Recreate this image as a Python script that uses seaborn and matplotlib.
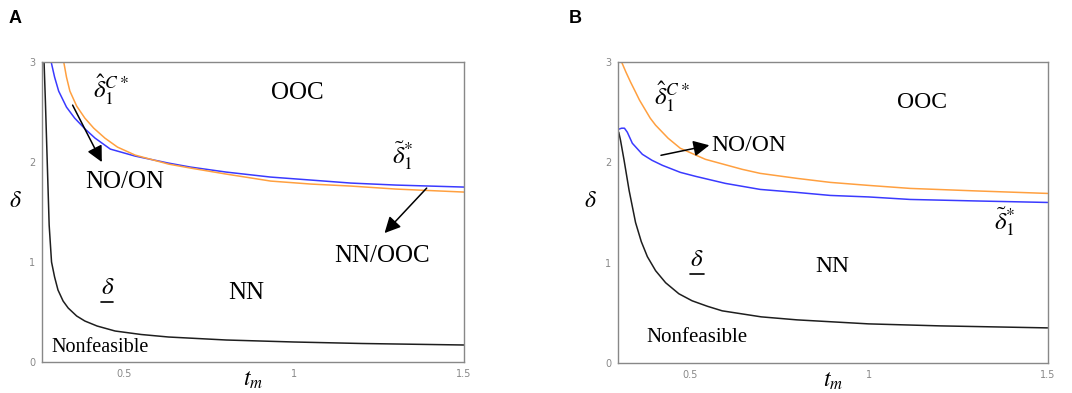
import matplotlib
matplotlib.use('Agg')
import matplotlib.pyplot as plt
import pandas as pd
import seaborn as sns

# panel A curves
a_black_t = [0.264, 0.268, 0.273, 0.279, 0.286, 0.295, 0.305, 0.32, 0.335, 0.36, 0.384, 0.42, 0.473, 0.55, 0.63, 0.8, 1.0, 1.2, 1.5]
a_black_d = [3.00, 2.60, 2.04, 1.37, 1.00, 0.85, 0.72, 0.61, 0.54, 0.46, 0.41, 0.36, 0.31, 0.275, 0.25, 0.22, 0.20, 0.185, 0.17]
a_blue_t = [0.285, 0.295, 0.307, 0.33, 0.354, 0.385, 0.414, 0.459, 0.532, 0.63, 0.695, 0.8, 0.931, 1.05, 1.167, 1.3, 1.5]
a_blue_d = [3.00, 2.85, 2.71, 2.55, 2.44, 2.33, 2.24, 2.13, 2.06, 1.99, 1.95, 1.90, 1.85, 1.82, 1.79, 1.77, 1.75]
a_orange_t = [0.322, 0.33, 0.34, 0.36, 0.384, 0.41, 0.443, 0.48, 0.532, 0.63, 0.695, 0.8, 0.931, 1.05, 1.167, 1.3, 1.5]
a_orange_d = [3.00, 2.85, 2.71, 2.56, 2.44, 2.34, 2.24, 2.15, 2.07, 1.98, 1.94, 1.88, 1.81, 1.78, 1.76, 1.73, 1.70]

# panel B curves
b_black_t = [0.302, 0.307, 0.317, 0.331, 0.349, 0.365, 0.382, 0.405, 0.433, 0.47, 0.507, 0.55, 0.591, 0.7, 0.8, 1.0, 1.2, 1.5]
b_black_d = [2.30, 2.22, 2.02, 1.72, 1.40, 1.21, 1.06, 0.92, 0.80, 0.69, 0.62, 0.565, 0.52, 0.46, 0.43, 0.39, 0.37, 0.35]
b_blue_t = [0.302, 0.31, 0.318, 0.326, 0.34, 0.368, 0.395, 0.424, 0.474, 0.517, 0.6, 0.697, 0.8, 0.893, 1.0, 1.116, 1.3, 1.5]
b_blue_d = [2.33, 2.34, 2.34, 2.30, 2.19, 2.08, 2.02, 1.97, 1.90, 1.86, 1.79, 1.73, 1.70, 1.67, 1.655, 1.63, 1.615, 1.60]
b_orange_t = [0.31, 0.322, 0.335, 0.349, 0.36, 0.375, 0.39, 0.405, 0.44, 0.474, 0.544, 0.647, 0.697, 0.8, 0.893, 1.0, 1.116, 1.3, 1.5]
b_orange_d = [3.00, 2.90, 2.80, 2.70, 2.62, 2.53, 2.44, 2.37, 2.24, 2.14, 2.03, 1.93, 1.89, 1.84, 1.80, 1.77, 1.74, 1.715, 1.69]

ticks_x = [0.5, 1, 1.5]
tick_labels_x = ['0.5', '1', '1.5']
ticks_y = [0, 1, 2, 3]

colors = {'black': '#1e1e1e', 'blue': '#3a3aff', 'orange': '#ffa040'}


def make_df(curves):
    frames = []
    for name, t, d in curves:
        frames.append(pd.DataFrame({'t': t, 'd': d, 'curve': name}))
    return pd.concat(frames, ignore_index=True)


sns.set_style('white')
plt.rcParams['font.family'] = ['Liberation Serif', 'DejaVu Serif']
plt.rcParams['mathtext.fontset'] = 'stix'
plt.rcParams['text.color'] = 'black'
plt.rcParams['axes.labelcolor'] = 'black'

fig = plt.figure(figsize=(10.72, 3.93), dpi=100)
axA = fig.add_axes([0.0392, 0.0789, 0.3937, 0.763])
axB = fig.add_axes([0.5765, 0.0763, 0.4008, 0.766])

dfA = make_df([('black', a_black_t, a_black_d), ('blue', a_blue_t, a_blue_d), ('orange', a_orange_t, a_orange_d)])
dfB = make_df([('black', b_black_t, b_black_d), ('blue', b_blue_t, b_blue_d), ('orange', b_orange_t, b_orange_d)])

for ax, df, xmin in [(axA, dfA, 0.258), (axB, dfB, 0.30)]:
    sns.lineplot(data=df, x='t', y='d', hue='curve', units='curve', estimator=None,
                 sort=False, palette=colors, linewidth=1.1, legend=False, ax=ax)
    ax.set_xlim(xmin, 1.5)
    ax.set_ylim(0, 3)
    ax.set_xticks(ticks_x)
    ax.set_xticklabels(tick_labels_x)
    ax.set_yticks(ticks_y)
    ax.tick_params(direction='in', length=3, width=0.8, color='#888888', labelsize=7,
                   labelcolor='#888888', pad=5)
    for lbl in ax.get_xticklabels() + ax.get_yticklabels():
        lbl.set_family('DejaVu Sans')
    for s in ax.spines.values():
        s.set_color('#888888')
        s.set_linewidth(1.0)
    ax.set_xlabel(r'$t_m$', fontsize=17, labelpad=-7)
    ax.set_ylabel(r'$\delta$', fontsize=17, rotation=0, labelpad=10)

arrow = dict(arrowstyle='-|>', mutation_scale=24, lw=1.1, color='black', shrinkA=0, shrinkB=0)

# panel A text
axA.text(0.46, 2.72, r'$\hat{\delta}_1^{C*}$', fontsize=18, ha='center', va='center')
axA.text(1.01, 2.69, 'OOC', fontsize=18, ha='center', va='center')
axA.text(1.32, 2.06, r'$\tilde{\delta}_1^{*}$', fontsize=18, ha='center', va='center')
axA.text(0.50, 1.80, 'NO/ON', fontsize=18, ha='center', va='center')
axA.text(1.26, 1.06, 'NN/OOC', fontsize=18, ha='center', va='center')
axA.text(0.45, 0.74, r'$\delta$', fontsize=18, ha='center', va='center')
axA.plot([0.432, 0.468], [0.60, 0.60], color='black', lw=1.2)
axA.text(0.86, 0.69, 'NN', fontsize=18, ha='center', va='center')
axA.text(0.43, 0.14, 'Nonfeasible', fontsize=14.5, ha='center', va='center')
axA.annotate('', xy=(0.434, 2.0), xytext=(0.348, 2.57), arrowprops=arrow)
axA.annotate('', xy=(1.266, 1.29), xytext=(1.39, 1.74), arrowprops=arrow)

# panel B text
axB.text(0.45, 2.65, r'$\hat{\delta}_1^{C*}$', fontsize=18, ha='center', va='center')
axB.text(1.15, 2.60, 'OOC', fontsize=17, ha='center', va='center')
axB.text(0.56, 2.17, 'NO/ON', fontsize=17, ha='left', va='center')
axB.text(1.38, 1.41, r'$\tilde{\delta}_1^{*}$', fontsize=18, ha='center', va='center')
axB.text(0.52, 1.03, r'$\delta$', fontsize=18, ha='center', va='center')
axB.plot([0.50, 0.54], [0.89, 0.89], color='black', lw=1.2)
axB.text(0.90, 0.96, 'NN', fontsize=17, ha='center', va='center')
axB.text(0.52, 0.25, 'Nonfeasible', fontsize=15, ha='center', va='center')
axB.annotate('', xy=(0.555, 2.17), xytext=(0.42, 2.07), arrowprops=arrow)

fig.text(0.008, 0.975, 'A', fontsize=13, fontweight='bold', family='Liberation Sans', va='top')
fig.text(0.531, 0.975, 'B', fontsize=13, fontweight='bold', family='Liberation Sans', va='top')

plt.savefig('out.png', dpi=100)
